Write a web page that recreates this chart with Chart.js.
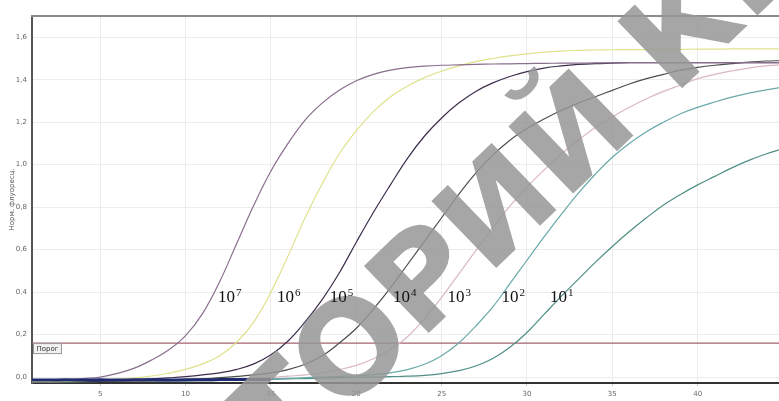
<!DOCTYPE html>
<html>
<head>
<meta charset="utf-8">
<script src="https://cdn.jsdelivr.net/npm/chart.js@4.4.1/dist/chart.umd.min.js"></script>
<style>
html,body{margin:0;padding:0;background:#fff;overflow:hidden;}
#wrap{width:779px;height:401px;overflow:hidden;position:relative;}
</style>
</head>
<body>
<div id="wrap"><canvas id="c" width="800" height="401"></canvas></div>
<script>
// ---- data ----
const cycles = [1,2,3,4,5,6,7,8,9,10,11,12,13,14,15,16,17,18,19,20,21,22,23,24,25,26,27,28,29,30,31,32,33,34,35,36,37,38,39,40,41,42,43,44,45];
const seriesNames = ["10^7","10^6","10^5","10^4","10^3","10^2","10^1"];
const s1e7 = [-0.016,-0.015,-0.012,-0.007,0.0,0.017,0.042,0.08,0.127,0.195,0.30,0.45,0.63,0.81,0.97,1.10,1.21,1.29,1.35,1.395,1.425,1.445,1.457,1.464,1.468,1.47,1.472,1.474,1.475,1.476,1.477,1.478,1.478,1.479,1.479,1.48,1.48,1.48,1.48,1.48,1.48,1.48,1.48,1.48,1.48];
const s1e6 = [-0.02,-0.02,-0.019,-0.018,-0.015,-0.01,-0.004,0.005,0.018,0.036,0.062,0.10,0.165,0.26,0.40,0.57,0.75,0.91,1.05,1.16,1.25,1.32,1.37,1.41,1.44,1.465,1.485,1.50,1.512,1.522,1.53,1.535,1.538,1.54,1.541,1.542,1.542,1.543,1.543,1.544,1.544,1.545,1.545,1.545,1.545];
const s1e5 = [-0.02,-0.02,-0.02,-0.019,-0.018,-0.016,-0.013,-0.009,-0.004,0.002,0.01,0.02,0.036,0.062,0.105,0.17,0.26,0.365,0.49,0.635,0.775,0.905,1.03,1.135,1.22,1.29,1.345,1.385,1.415,1.438,1.455,1.465,1.472,1.476,1.478,1.48,1.48,1.48,1.48,1.48,1.48,1.48,1.48,1.48,1.48];
const s1e4 = [-0.021,-0.021,-0.02,-0.02,-0.02,-0.019,-0.018,-0.017,-0.015,-0.012,-0.008,-0.003,0.003,0.01,0.02,0.035,0.06,0.10,0.16,0.23,0.32,0.42,0.53,0.64,0.75,0.86,0.96,1.045,1.115,1.17,1.215,1.255,1.29,1.32,1.35,1.38,1.405,1.425,1.445,1.458,1.468,1.476,1.483,1.488,1.49];
const s1e3 = [-0.022,-0.022,-0.021,-0.021,-0.02,-0.02,-0.019,-0.018,-0.017,-0.016,-0.014,-0.012,-0.009,-0.006,-0.002,0.004,0.01,0.02,0.035,0.055,0.086,0.13,0.19,0.275,0.375,0.485,0.595,0.705,0.805,0.895,0.975,1.05,1.115,1.175,1.225,1.27,1.31,1.345,1.375,1.405,1.425,1.442,1.455,1.465,1.47];
const s1e2 = [-0.022,-0.022,-0.022,-0.021,-0.021,-0.02,-0.02,-0.019,-0.018,-0.017,-0.016,-0.014,-0.012,-0.01,-0.008,-0.006,-0.003,0.0,0.003,0.006,0.011,0.02,0.035,0.06,0.10,0.16,0.24,0.33,0.44,0.55,0.66,0.765,0.865,0.955,1.035,1.10,1.155,1.20,1.24,1.27,1.295,1.318,1.337,1.352,1.365];
const s1e1 = [-0.022,-0.022,-0.022,-0.022,-0.021,-0.021,-0.02,-0.02,-0.019,-0.018,-0.017,-0.016,-0.015,-0.013,-0.011,-0.009,-0.007,-0.005,-0.003,-0.001,0.0,0.002,0.004,0.008,0.016,0.03,0.052,0.087,0.14,0.21,0.295,0.38,0.46,0.54,0.615,0.685,0.75,0.81,0.86,0.905,0.945,0.985,1.02,1.05,1.075];
const ntc = [-0.014,-0.014,-0.013,-0.014,-0.013,-0.014,-0.013,-0.013,-0.014,-0.013,-0.013,-0.012,-0.012,-0.012,-0.011];
const thresholdValue = 0.16;
const thresholdLabel = "Порог";
const yTicks = [0,0.2,0.4,0.6,0.8,1.0,1.2,1.4,1.6];
const xTicks = [5,10,15,20,25,30,35,40,45];
const yTitle = "Норм. флуоресц.";
// annotation labels: [base, exponent, cycle, value]
const curveLabels = [["10","7",11.9,0.355],["10","6",15.35,0.355],["10","5",18.45,0.355],["10","4",22.15,0.355],["10","3",25.35,0.355],["10","2",28.5,0.355],["10","1",31.35,0.355]];
const watermarkBefore = "РЕПОЗИТ";
const watermarkAfter = "ОРИЙ КГУ";

const colors = ["#8a6e8e","#dfe28c","#3e2e4e","#4e4e4e","#d9b8c6","#6aa9a9","#4f8f86"];
const allSeries = [s1e7,s1e6,s1e5,s1e4,s1e3,s1e2,s1e1];

const datasets = allSeries.map((arr,i)=>({
  label: seriesNames[i],
  data: arr.map((v,j)=>({x:cycles[j],y:v})),
  borderColor: colors[i],
  borderWidth: 1.2,
  pointRadius: 0,
  tension: 0.4,
  fill:false
}));
datasets.unshift({
  label:"ntc",
  data: ntc.map((v,j)=>({x:cycles[j],y:v})),
  borderColor:"#1f2b6e",
  borderWidth:3,
  pointRadius:0,
  tension:0.4
});
datasets.push({
  label:"threshold",
  data:[{x:cycles[0],y:thresholdValue},{x:cycles[cycles.length-1],y:thresholdValue}],
  borderColor:"#a3636e",
  borderWidth:1.2,
  pointRadius:0
});

const fmt = v => v.toFixed(1).replace('.', ',');

const decor = {
  id:'decor',
  afterDatasetsDraw(chart){
    const {ctx, chartArea:a, scales:{x,y}} = chart;
    ctx.save();
    // top border
    ctx.strokeStyle="#8c8c8c"; ctx.lineWidth=2;
    ctx.beginPath(); ctx.moveTo(a.left-1,a.top); ctx.lineTo(a.right,a.top); ctx.stroke();
    // threshold label box
    const ty = y.getPixelForValue(thresholdValue);
    ctx.font="7px 'DejaVu Sans', sans-serif";
    const w = ctx.measureText(thresholdLabel).width+6;
    ctx.fillStyle="#f2f2f2"; ctx.fillRect(a.left+1.5, ty+0.5, w, 10);
    ctx.strokeStyle="#9a9a9a"; ctx.lineWidth=1;
    ctx.strokeRect(a.left+1.5, ty+0.5, w, 10);
    ctx.fillStyle="#333"; ctx.textBaseline="middle"; ctx.textAlign="left";
    ctx.fillText(thresholdLabel, a.left+4.5, ty+6);
    ctx.restore();
  },
  afterDraw(chart){
    const {ctx, scales:{x,y}} = chart;
    // watermark
    ctx.save();
    ctx.translate(349, 346);
    ctx.rotate(-44*Math.PI/180);
    ctx.font="bold 128px 'DejaVu Sans', sans-serif";
    ctx.fillStyle="rgba(150,150,150,0.85)";
    ctx.textBaseline="alphabetic";
    const ow = ctx.measureText("О").width;
    const yoff = 0.36*128;
    ctx.textAlign="right";
    ctx.fillText(watermarkBefore, -ow/2, yoff);
    ctx.textAlign="left";
    ctx.fillText(watermarkAfter, -ow/2, yoff);
    ctx.restore();
    // curve labels on top
    ctx.save();
    ctx.fillStyle="#111"; ctx.textBaseline="alphabetic"; ctx.textAlign="left";
    curveLabels.forEach(([b,e,cx,cv])=>{
      const px = x.getPixelForValue(cx), py = y.getPixelForValue(cv);
      ctx.font="17px 'Liberation Serif', serif";
      ctx.fillText(b, px, py);
      const bw = ctx.measureText(b).width;
      ctx.font="11px 'Liberation Serif', serif";
      ctx.fillText(e, px+bw+1, py-6);
    });
    ctx.restore();
  }
};

new Chart(document.getElementById('c'),{
  type:'line',
  data:{datasets},
  options:{
    responsive:false,
    animation:false,
    devicePixelRatio:1,
    layout:{padding:{left:0,top:16,right:17,bottom:0}},
    plugins:{legend:{display:false},tooltip:{enabled:false}},
    scales:{
      x:{
        type:'linear', min:1, max:45,
        afterBuildTicks: s => { s.ticks = xTicks.map(v=>({value:v})); },
        afterFit: s => { s.height = 18; },
        ticks:{font:{size:7,family:"'DejaVu Sans', sans-serif"},color:"#666",padding:4,maxRotation:0,autoSkip:false},
        grid:{color:"#ececec",lineWidth:1,drawTicks:true,tickLength:3,tickColor:"#ccc"},
        border:{color:"#333",width:2}
      },
      y:{
        type:'linear', min:-0.028, max:1.70,
        afterBuildTicks: s => { s.ticks = yTicks.map(v=>({value:v})); },
        afterFit: s => { s.width = 32; },
        ticks:{font:{size:7,family:"'DejaVu Sans', sans-serif"},color:"#666",padding:5,callback:v=>fmt(v)},
        grid:{color:"#ececec",lineWidth:1,drawTicks:false},
        border:{color:"#555",width:2},
        title:{display:true,text:yTitle,font:{size:7,family:"'DejaVu Sans', sans-serif"},color:"#555",padding:{top:8,bottom:0}}
      }
    }
  },
  plugins:[decor]
});
</script>
</body>
</html>
